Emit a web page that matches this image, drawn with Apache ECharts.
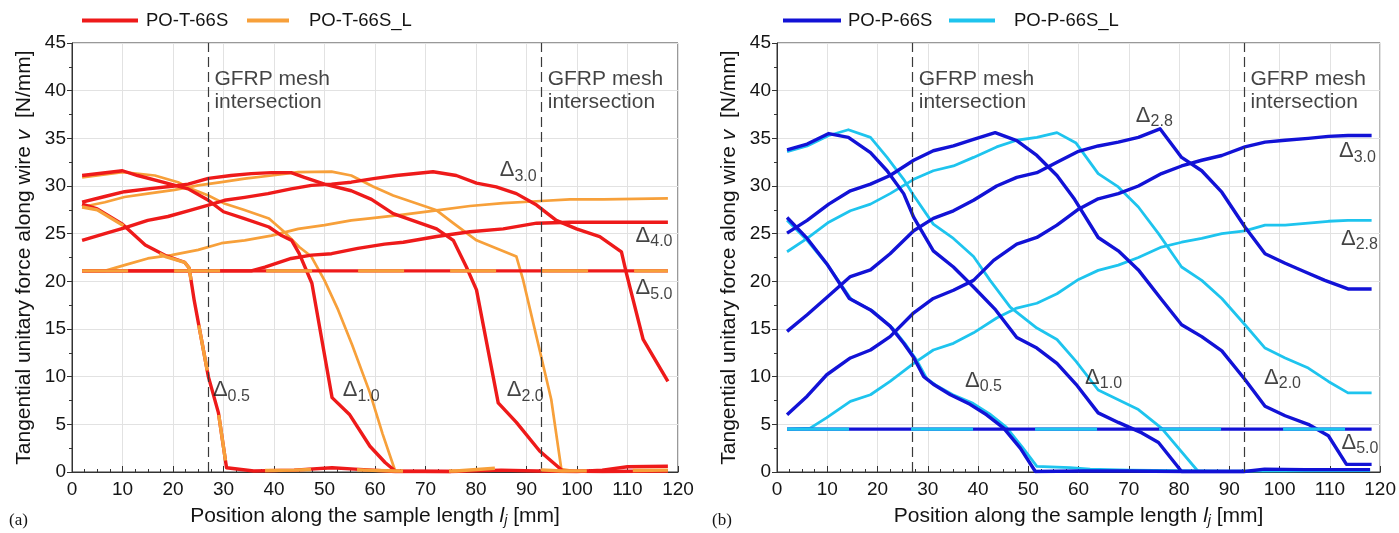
<!DOCTYPE html>
<html>
<head>
<meta charset="utf-8">
<script src="https://cdn.jsdelivr.net/npm/echarts@6/dist/echarts.min.js"></script>
<style>
  html, body { margin: 0; padding: 0; background: #ffffff; }
  #chart { width: 1399px; height: 533px; }
</style>
</head>
<body>
<div id="chart"></div>
<script>
// ---------------- DATA ----------------
// Axis ticks
const xTicks = { min: 0, max: 120, step: 10 };
const yTicks = { min: 0, max: 45, step: 5 };
// GFRP mesh intersections (mm)
const meshX = [27, 93];

// Panel (a): PO-T-66S (red) and PO-T-66S_L (orange)
const aRed05 = [[2,28.1],[5,27.6],[10,26.0],[14.5,23.8],[18.5,22.7],[22.3,22.0],[23.2,21.4],[24.2,18.0],[27,10.0],[29,6.2],[30.6,0.45],[36,0.1],[44,0.2],[51.5,0.45],[56,0.3],[64,0.05],[75,0.05],[85,0.2],[92,0.1],[100,0.05],[105,0.2],[110,0.55],[118,0.6]];
const aOra05 = [[2,27.8],[5,27.5],[10,25.9],[14.5,23.7],[18.5,22.6],[22.3,22.0],[23.2,21.4],[24.2,18.0],[27,10.0],[29,6.2],[30.6,0.45],[36,0.15],[44,0.2],[52,0.35],[58,0.2],[64,0.1],[76,0.1],[84,0.4],[90,0.3],[97,0.1],[110,0.15],[118,0.2]];
const aRed10 = [[2,31.1],[10,31.6],[13,31.1],[18,30.4],[23,29.7],[27,28.5],[30,27.3],[34,26.6],[39,25.7],[41.5,24.8],[43.5,24.3],[45,22.9],[47.5,19.8],[51.5,7.8],[55,6.0],[59,2.7],[62,1.0],[64,0.1],[75,0.05]];
const aOra10 = [[2,30.9],[10,31.45],[16.4,31.1],[21,30.4],[23.6,29.7],[27,29.0],[30,28.2],[34,27.5],[39,26.6],[42,25.2],[45,23.6],[47.4,22.6],[50,20.1],[52.7,17.0],[55.5,13.3],[59,8.3],[61.5,4.0],[64,0.1]];
const aRed20 = [[2,28.3],[6.5,28.9],[10.4,29.4],[15,29.7],[20.3,30.0],[23,30.2],[27,30.8],[31.5,31.1],[35.5,31.3],[39.5,31.4],[43.4,31.4],[46,30.9],[50,30.2],[55.3,29.5],[59.3,28.6],[63.6,27.1],[72.2,25.5],[75.5,24.3],[78.1,21.5],[80.1,19.1],[84.4,7.25],[88,5.2],[92.6,2.2],[97.2,0.1],[105,0.05],[118,0.1]];
const aOra20 = [[2,27.8],[6.5,28.3],[10.4,28.85],[15,29.2],[20.3,29.6],[25,30.07],[29.6,30.4],[34.2,30.77],[39.5,31.1],[44.8,31.46],[51.4,31.5],[55.3,31.1],[59.6,29.95],[63.6,29.0],[72.2,27.45],[75.5,26.1],[80.1,24.3],[88,22.6],[89.3,20.2],[92.6,12.8],[94.9,7.6],[96.9,0.3],[100,0.05],[118,0.1]];
const aRed30 = [[2,24.3],[6.5,25.0],[10.4,25.6],[15,26.4],[19,26.8],[23,27.4],[27,28.0],[30.2,28.5],[34.2,28.8],[38.8,29.2],[43.4,29.7],[47.4,30.07],[51.4,30.2],[55.3,30.4],[60,30.8],[64.2,31.1],[71.5,31.5],[76.1,31.1],[80.1,30.3],[84,29.9],[88,29.2],[92,28.0],[95.9,26.4],[99.9,25.5],[104.5,24.7],[108.8,23.1],[109.8,20.8],[113.1,13.9],[118,9.5]];
const aOra30 = [[2,21.1],[6.5,21.1],[10.4,21.7],[15,22.4],[19.7,22.75],[25,23.3],[29.6,24.0],[34.2,24.3],[39.5,24.8],[44.8,25.5],[50,25.9],[55.3,26.4],[59,26.6],[65.6,27.0],[72.2,27.45],[78.8,27.9],[85.4,28.2],[92,28.4],[98.6,28.6],[105.2,28.6],[118,28.7]];
const aRed40 = [[2,21.1],[30,21.1],[35.5,21.1],[38.2,21.5],[43.4,22.4],[47.4,22.75],[51.4,22.9],[56.6,23.45],[61.9,23.9],[65.6,24.1],[72.2,24.7],[78.8,25.2],[85.4,25.5],[92,26.1],[98.6,26.2],[105.2,26.2],[118,26.2]];
const aRed50 = [[2,21.1],[30,21.1],[60,21.1],[90,21.1],[118,21.1]];
const aOra50 = [[2,21.1],[30,21.1],[60,21.1],[90,21.1],[118,21.1]];

// Panel (b): PO-P-66S (dark blue) and PO-P-66S_L (cyan)
const bDark05 = [[2,26.7],[6,24.5],[9.9,21.85],[14.4,18.2],[18.6,17.0],[22.5,15.3],[25.2,13.5],[27.2,12.0],[29.2,10.0],[31.1,9.2],[34.5,8.1],[38.4,7.1],[41.7,6.0],[45.1,4.6],[48.4,2.5],[51.4,0.05],[60,0.1],[70,0.1],[80,0.05],[93,0.05],[97,0.3],[105,0.25],[118,0.25]];
const bCyan05 = [[2,26.4],[6,24.3],[10.2,21.6],[14.8,18.1],[19,16.9],[23,15.1],[25.7,13.3],[27.7,11.8],[29.8,9.8],[31.6,9.1],[35,8.1],[39,7.2],[42.3,6.1],[45.6,4.7],[48.8,2.6],[51.7,0.6],[58.3,0.45],[62.3,0.3],[70,0.2],[80,0.15],[90,0.1],[118,0.15]];
const bDark10 = [[2,33.8],[6,34.4],[10.3,35.5],[14.2,35.1],[18.6,33.5],[21.9,31.6],[25.2,29.2],[27.2,26.7],[31.1,23.2],[35.1,21.5],[39.1,19.4],[43.5,17.0],[47.7,14.1],[51.7,13.0],[55.7,11.4],[59.5,9.2],[63.9,6.2],[67.9,5.2],[72.6,4.1],[75.9,3.1],[80.5,0.05],[93,0.05]];
const bCyan10 = [[2,33.6],[6,34.2],[10.3,35.3],[14.2,35.9],[18.6,35.1],[21.9,33.0],[25.2,30.7],[27.2,29.0],[31.1,26.0],[35.1,24.5],[39.1,22.6],[42.4,20.1],[46.4,17.3],[51.7,15.1],[55.7,13.9],[59.5,11.6],[63.9,8.6],[71.9,6.55],[76.5,4.6],[83.8,0.05]];
const bDark20 = [[2,25.06],[6,26.4],[10.3,28.1],[14.6,29.5],[18.6,30.2],[22.5,31.1],[27.2,32.7],[31.1,33.7],[35.1,34.2],[39.1,34.9],[43.4,35.6],[47.7,34.75],[51.7,33.2],[55.7,31.1],[59.2,28.6],[63.9,24.6],[67.9,23.2],[71.9,21.2],[76.5,18.1],[80.5,15.45],[84.5,14.2],[88.5,12.7],[93.1,9.7],[97.1,6.9],[101.1,5.9],[105.7,5.0],[109.7,3.8],[113.3,0.8],[118.3,0.8]];
const bDark28 = [[2,14.75],[6,16.5],[9.9,18.3],[14.6,20.5],[18.6,21.2],[22.5,22.9],[27.2,25.3],[31.1,26.6],[35.1,27.4],[39.1,28.5],[43.7,30.0],[47.7,30.9],[51.7,31.4],[55.7,32.5],[59.8,33.6],[63.9,34.2],[67.9,34.6],[71.9,35.1],[76.2,36.0],[80.5,33.0],[84.5,31.6],[88.5,29.35],[93.1,25.7],[97.1,22.9],[101.1,21.9],[105,21.0],[109,20.1],[113.6,19.2],[118.3,19.2]];
const bDark30 = [[2,6.0],[6,7.95],[9.9,10.2],[14.6,11.96],[18.6,12.8],[22.5,14.2],[27.2,16.7],[31.1,18.2],[35.1,19.06],[39.1,20.1],[43.1,22.2],[47.7,23.9],[51.7,24.6],[55.7,25.9],[59.8,27.5],[63.9,28.65],[67.9,29.2],[71.9,30.0],[76.5,31.3],[80.5,32.1],[84.5,32.7],[88.5,33.2],[93.1,34.1],[97.1,34.6],[101.1,34.8],[105.7,35.0],[109.7,35.2],[113.6,35.3],[118.3,35.3]];
const bCyan20 = [[2,23.1],[6,24.5],[10.3,26.2],[14.6,27.4],[18.6,28.1],[22.5,29.2],[27.2,30.7],[31.1,31.6],[35.1,32.1],[39.1,33.0],[43.7,34.1],[47.7,34.8],[51.7,35.1],[55.7,35.6],[59.5,34.5],[63.9,31.3],[67.9,29.9],[71.9,27.8],[75.9,25.0],[80.5,21.5],[84.5,20.1],[88.5,18.2],[93.1,15.45],[97.1,13.0],[101.1,11.96],[105.7,10.9],[109.7,9.5],[113.6,8.3],[118.3,8.3]];
const bCyan28 = [[2,4.5],[6.6,4.6],[9.9,5.7],[14.6,7.4],[18.6,8.1],[22.5,9.5],[27.2,11.4],[31.1,12.8],[35.1,13.5],[39.1,14.6],[43.7,16.15],[47.7,17.2],[51.7,17.7],[55.7,18.7],[60,20.2],[63.9,21.15],[67.9,21.7],[71.9,22.5],[76.5,23.6],[80.5,24.1],[84.5,24.5],[88.5,25.0],[93.1,25.3],[97.1,25.9],[101.1,25.9],[105.7,26.1],[109.7,26.3],[113.6,26.4],[118.3,26.4]];
const bDark50 = [[2,4.5],[30,4.5],[60,4.5],[90,4.5],[118.3,4.5]];
const bCyan50 = [[2,4.5],[30,4.5],[60,4.5],[90,4.5],[118.3,4.5]];

// Text annotations
const meshText = 'GFRP mesh\nintersection';
const meshTextPos = [[28.2, 42.4], [94.2, 42.4]];
const aDeltaLabels = [['3.0', 84.7, 31.5], ['4.0', 111.6, 24.6], ['5.0', 111.6, 19.1], ['0.5', 27.9, 8.4], ['1.0', 53.6, 8.4], ['2.0', 86.1, 8.4]];
const bDeltaLabels = [['2.8', 71.4, 37.2], ['3.0', 111.8, 33.5], ['2.8', 112.2, 24.3], ['0.5', 37.4, 9.4], ['1.0', 61.3, 9.7], ['2.0', 96.9, 9.7], ['5.0', 112.3, 2.9]];
const legendA = ['PO-T-66S', 'PO-T-66S_L'];
const legendB = ['PO-P-66S', 'PO-P-66S_L'];

// ---------------- STYLE ----------------
const FONT = "'Liberation Sans', Arial, sans-serif";
const TXT = '#141414';
const C = { red: '#ee1a1a', orange: '#f7a03a', dark: '#1212d6', cyan: '#1ec4ee' };

function lineSeries(name, data, grid, color, width, z, dash) {
  return {
    name: name, type: 'line', xAxisIndex: grid, yAxisIndex: grid,
    data: data, symbol: 'none', smooth: false, z: z,
    lineStyle: { color: color, width: width, type: dash ? dash : 'solid', cap: 'butt', join: 'round' },
    itemStyle: { color: color },
    emphasis: { disabled: true }, silent: true
  };
}

function textSeries(grid, items) {
  return {
    type: 'scatter', xAxisIndex: grid, yAxisIndex: grid, symbolSize: 0, z: 20, silent: true,
    data: items.map(d => ({
      value: [d[1], d[2]],
      label: {
        show: true, position: [0, 0], align: 'left', verticalAlign: 'middle',
        formatter: '{d|\u0394}{s|' + d[0] + '}',
        rich: {
          d: { fontSize: 22, fontFamily: FONT, color: TXT, verticalAlign: 'bottom', padding: [0, 0, 3, 0] },
          s: { fontSize: 16, fontFamily: FONT, color: TXT, verticalAlign: 'bottom' }
        }
      }
    }))
  };
}

function meshSeries(grid) {
  return {
    type: 'scatter', xAxisIndex: grid, yAxisIndex: grid, symbolSize: 0, z: 20, silent: true,
    data: meshTextPos.map(p => ({
      value: p,
      label: {
        show: true, position: [0, 0], align: 'left', verticalAlign: 'top',
        formatter: meshText, fontSize: 21, lineHeight: 23, fontFamily: FONT, color: TXT
      }
    })),
    markLine: {
      silent: true, symbol: ['none', 'none'], label: { show: false },
      lineStyle: { color: '#3a3a3a', width: 1.2, type: [10, 5] },
      data: meshX.map(x => ({ xAxis: x }))
    }
  };
}

function xAxisCfg(grid) {
  return {
    gridIndex: grid, type: 'value', min: xTicks.min, max: xTicks.max, interval: xTicks.step,
    name: 'Position along the sample length {i|l}{j|j} [mm]',
    nameLocation: 'middle', nameGap: 33,
    nameTextStyle: {
      fontSize: 21, fontFamily: FONT, color: TXT,
      rich: {
        i: { fontSize: 21, fontFamily: FONT, fontStyle: 'italic', color: TXT },
        j: { fontSize: 14, fontFamily: FONT, fontStyle: 'italic', color: TXT, verticalAlign: 'bottom', padding: [9, 0, 0, 0] }
      }
    },
    axisLine: { show: true, lineStyle: { color: '#333', width: 1 } },
    axisTick: { show: true, inside: true, length: 6, lineStyle: { color: '#333' } },
    minorTick: { show: true, splitNumber: 4, length: 3, lineStyle: { color: '#333' } },
    axisLabel: { fontSize: 19, fontFamily: FONT, color: TXT, margin: 8 },
    splitLine: { show: true, lineStyle: { color: '#e2e2e2', width: 1 } }
  };
}

function yAxisCfg(grid) {
  return {
    gridIndex: grid, type: 'value', min: yTicks.min, max: yTicks.max, interval: yTicks.step,
    name: 'Tangential unitary force along wire {i|v}  [N/mm]',
    nameLocation: 'middle', nameGap: 37,
    nameTextStyle: {
      fontSize: 21, fontFamily: FONT, color: TXT,
      rich: { i: { fontSize: 21, fontFamily: FONT, fontStyle: 'italic', color: TXT } }
    },
    axisLine: { show: true, lineStyle: { color: '#333', width: 1 } },
    axisTick: { show: true, inside: false, length: 5, lineStyle: { color: '#333' } },
    minorTick: { show: true, splitNumber: 2, length: 3, lineStyle: { color: '#333' } },
    axisLabel: { fontSize: 19, fontFamily: FONT, color: TXT, margin: 6 },
    splitLine: { show: true, lineStyle: { color: '#e2e2e2', width: 1 } }
  };
}

// one legend component per entry so each key line can have its own length
function legendItem(name, left, color, lineLen, textPad) {
  return {
    left: left, top: 6, itemWidth: lineLen, itemHeight: 4,
    icon: 'rect',
    data: [{ name: name, icon: 'rect', itemStyle: { color: color } }],
    formatter: function (n) { return '{p|' + n + '}'; },
    textStyle: {
      fontSize: 18.5, fontFamily: FONT, color: TXT,
      rich: { p: { fontSize: 18.5, fontFamily: FONT, color: TXT, padding: [0, 0, 0, textPad] } }
    },
    selectedMode: false
  };
}

const series = [
  // panel a: orange under red
  lineSeries(legendA[1], aOra10, 0, C.orange, 2.7, 3),
  lineSeries(legendA[1], aOra20, 0, C.orange, 2.7, 3),
  lineSeries(legendA[1], aOra30, 0, C.orange, 2.7, 3),
  lineSeries(legendA[0], aRed10, 0, C.red, 3.4, 4),
  lineSeries(legendA[0], aRed20, 0, C.red, 3.4, 4),
  lineSeries(legendA[0], aRed30, 0, C.red, 3.4, 4),
  lineSeries(legendA[0], aRed40, 0, C.red, 3.4, 4),
  lineSeries(legendA[0], aRed05, 0, C.red, 3.4, 4),
  lineSeries(legendA[0], aRed50, 0, C.red, 3.4, 4),
  lineSeries(legendA[1], aOra05, 0, C.orange, 3.4, 5, [46, 46]),
  lineSeries(legendA[1], aOra50, 0, C.orange, 3.4, 5, [46, 46]),
  // panel b
  lineSeries(legendB[1], bCyan05, 1, C.cyan, 2.8, 3),
  lineSeries(legendB[1], bCyan10, 1, C.cyan, 2.8, 3),
  lineSeries(legendB[1], bCyan20, 1, C.cyan, 2.8, 3),
  lineSeries(legendB[1], bCyan28, 1, C.cyan, 2.8, 3),
  lineSeries(legendB[0], bDark05, 1, C.dark, 3.4, 4),
  lineSeries(legendB[0], bDark10, 1, C.dark, 3.4, 4),
  lineSeries(legendB[0], bDark20, 1, C.dark, 3.4, 4),
  lineSeries(legendB[0], bDark28, 1, C.dark, 3.4, 4),
  lineSeries(legendB[0], bDark30, 1, C.dark, 3.4, 4),
  lineSeries(legendB[0], bDark50, 1, C.dark, 3.4, 4),
  lineSeries(legendB[1], bCyan50, 1, C.cyan, 3.4, 5, [62, 62]),
  meshSeries(0), meshSeries(1),
  textSeries(0, aDeltaLabels), textSeries(1, bDeltaLabels)
];

const chart = echarts.init(document.getElementById('chart'), null, { renderer: 'canvas' });
chart.setOption({
  animation: false,
  backgroundColor: '#ffffff',
  textStyle: { fontFamily: FONT },
  legend: [
    legendItem(legendA[0], 77, C.red, 56, 3),
    legendItem(legendA[1], 242, C.orange, 42, 15),
    legendItem(legendB[0], 778, C.dark, 58, 2),
    legendItem(legendB[1], 944, C.cyan, 46, 14)
  ],
  grid: [
    { left: 72, right: 721, top: 43, bottom: 60, show: true, borderColor: '#333', borderWidth: 1, backgroundColor: 'transparent' },
    { left: 777, right: 18, top: 43, bottom: 60, show: true, borderColor: '#333', borderWidth: 1, backgroundColor: 'transparent' }
  ],
  xAxis: [xAxisCfg(0), xAxisCfg(1)],
  yAxis: [yAxisCfg(0), yAxisCfg(1)],
  graphic: [
    { type: 'text', left: 9, top: 512, style: { text: '(a)', font: "17px 'Liberation Serif', 'Times New Roman', serif", fill: TXT } },
    { type: 'text', left: 712, top: 512, style: { text: '(b)', font: "17px 'Liberation Serif', 'Times New Roman', serif", fill: TXT } }
  ],
  series: series
});
</script>
</body>
</html>
